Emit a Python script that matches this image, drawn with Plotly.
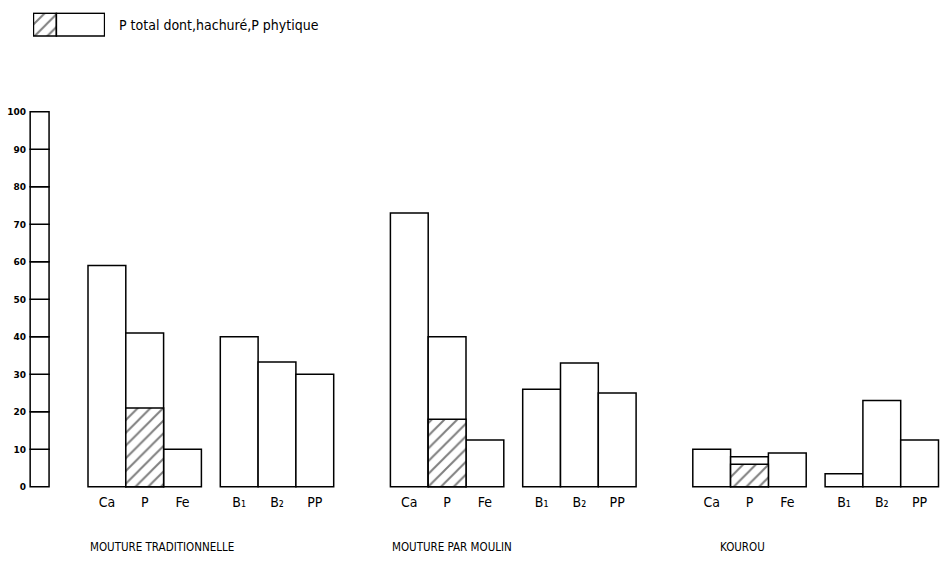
import plotly.graph_objects as go

# ---- data ----
groups = ["MOUTURE TRADITIONNELLE", "MOUTURE PAR MOULIN", "KOUROU"]
nutrients = ["Ca", "P", "Fe", "B1", "B2", "PP"]
nutrient_labels = ["Ca", "P", "Fe", "B₁", "B₂", "PP"]
trad_values = [59, 41, 10, 40, 33.3, 30]
moulin_values = [73, 40, 12.5, 26, 33, 25]
kourou_values = [10, 8, 9, 3.5, 23, 12.5]
p_phytique = [21, 18, 6]
scale_ticks = [0, 10, 20, 30, 40, 50, 60, 70, 80, 90, 100]
legend_text = "P total dont,hachuré,P phytique"

series = [trad_values, moulin_values, kourou_values]
FONT = "DejaVu Sans Condensed, DejaVu Sans, sans-serif"


def xpos(g, i):
    return g * 8 + i + (0.5 if i >= 3 else 0) + 0.5


fig = go.Figure()

# scale bar with divisions
seg_base = scale_ticks[:-1]
seg_len = [b - a for a, b in zip(scale_ticks[:-1], scale_ticks[1:])]
fig.add_trace(go.Bar(x=[-1.28] * len(seg_base), y=seg_len, base=seg_base, width=0.5,
                     marker=dict(color="white", line=dict(color="black", width=1.5)),
                     showlegend=False, hoverinfo="skip"))

tickvals, ticktext = [], []
for g, vals in enumerate(series):
    xs = [xpos(g, i) for i in range(len(nutrients))]
    tickvals += xs
    ticktext += nutrient_labels
    fig.add_trace(go.Bar(x=xs, y=vals, width=1, name=groups[g],
                         marker=dict(color="white", line=dict(color="black", width=1.5)),
                         showlegend=False))

HATCH = dict(shape="/", fgcolor="black", bgcolor="white", size=9, solidity=0.22)

# hatched phytic P
fig.add_trace(go.Bar(x=[xpos(g, 1) for g in range(len(groups))], y=p_phytique, width=1,
                     marker=dict(color="white", line=dict(color="black", width=1.5),
                                 pattern=HATCH),
                     showlegend=False))

# legend inset
fig.add_trace(go.Bar(x=[1], y=[0], base=[0], orientation="h", width=1,
                     marker=dict(color="white", line=dict(color="black", width=1.5),
                                 pattern=HATCH),
                     xaxis="x2", yaxis="y2", showlegend=False))
fig.add_trace(go.Bar(x=[2.1], y=[0], base=[1], orientation="h", width=1,
                     marker=dict(color="white", line=dict(color="black", width=1.5)),
                     xaxis="x2", yaxis="y2", showlegend=False))

annotations = [dict(text=legend_text, xref="paper", yref="paper", x=0.1008, y=0.949,
                    xanchor="left", yanchor="middle", showarrow=False,
                    font=dict(family=FONT, size=14, color="black"))]
label_offsets = [0, 0, 0.67]
for g, name in enumerate(groups):
    annotations.append(dict(text=name, xref="x", yref="paper", x=g * 8 + label_offsets[g],
                            y=-0.121, xanchor="left", yanchor="middle", showarrow=False,
                            font=dict(family=FONT, size=11.5, color="black")))

fig.update_layout(
    width=947, height=568,
    margin=dict(l=24, r=0, t=0, b=80),
    paper_bgcolor="white", plot_bgcolor="white",
    barmode="overlay",
    xaxis=dict(range=[-1.693, 22.725], tickvals=tickvals, ticktext=ticktext,
               showgrid=False, zeroline=False, showline=False, ticks="",
               ticklabelstandoff=4, automargin=False,
               tickfont=dict(family=FONT, size=14, color="black")),
    yaxis=dict(range=[-0.3, 129.83], tickvals=scale_ticks, showgrid=False, zeroline=False,
               showline=False, ticks="", automargin=False, ticklabelstandoff=-3,
               tickfont=dict(family="DejaVu Sans", size=9, color="black", weight="bold")),
    xaxis2=dict(domain=[0.00975, 0.0878], range=[-0.02, 3.12], visible=False, anchor="y2"),
    yaxis2=dict(domain=[0.924, 0.975], range=[-0.55, 0.55], visible=False, anchor="x2"),
    annotations=annotations,
)

fig.write_html("out.html", post_script="document.body.style.margin='0';",
               config={"displayModeBar": False})
